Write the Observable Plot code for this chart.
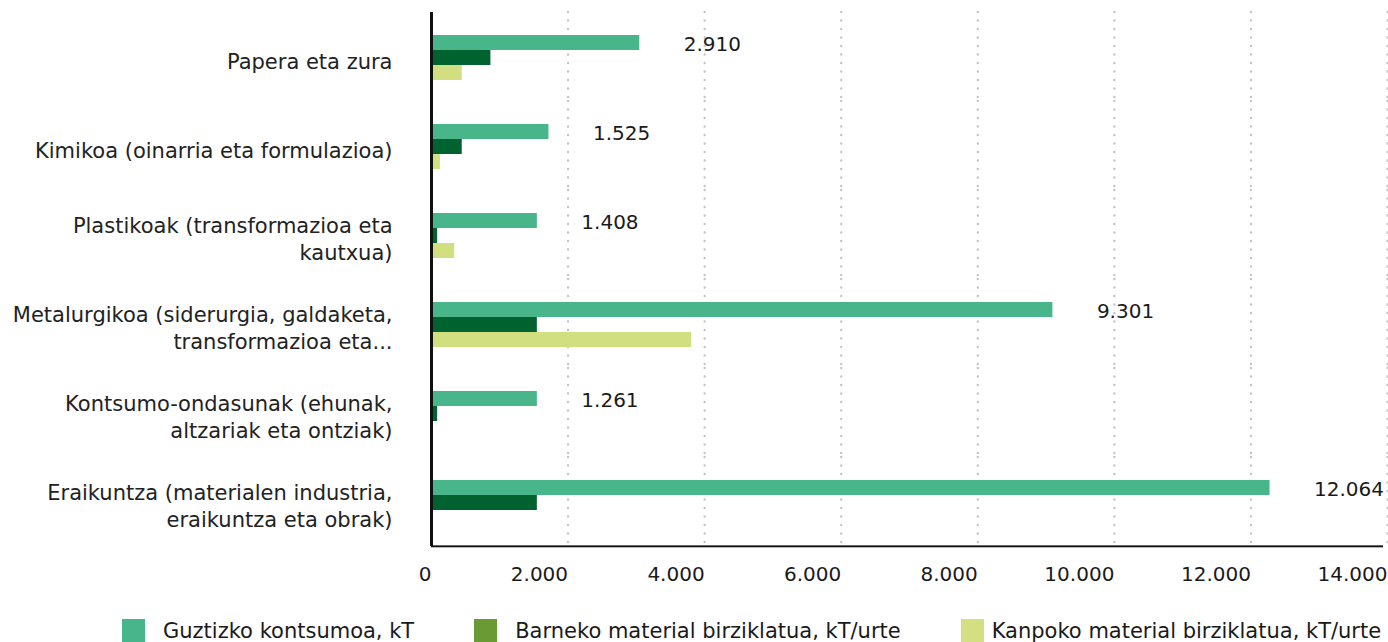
<!DOCTYPE html>
<html>
<head>
<meta charset="utf-8">
<script src="https://cdn.jsdelivr.net/npm/d3@7"></script>
<script src="https://cdn.jsdelivr.net/npm/@observablehq/plot@0.6"></script>
<style>
  html, body { margin: 0; padding: 0; background: #fff; }
  body { width: 1388px; height: 642px; overflow: hidden; position: relative; font-family: "DejaVu Sans", sans-serif; }
  #chart { position: absolute; left: 0; top: 0; }
  #legend { position: absolute; left: 0; top: 619px; width: 1388px; height: 23px; overflow: hidden; white-space: nowrap;
            display: flex; align-items: flex-start; padding-left: 122px; box-sizing: border-box; gap: 60px;
            font-family: "DejaVu Sans", sans-serif; font-size: 21px; color: #1a1a1a; }
  .item { display: flex; align-items: flex-start; flex: none; }
  .sw { width: 23px; height: 23px; flex: none; }
  .lt { margin-left: 18px; line-height: 21px; margin-top: 2px; }
  .item:last-child .lt { margin-left: 8px; }
</style>
</head>
<body>
<div id="chart"></div>
<div id="legend"></div>
<script>
// ---- data ----
const categories = [
  "Papera eta zura",
  "Kimikoa (oinarria eta formulazioa)",
  "Plastikoak (transformazioa eta kautxua)",
  "Metalurgikoa (siderurgia, galdaketa, transformazioa eta...",
  "Kontsumo-ondasunak (ehunak, altzariak eta ontziak)",
  "Eraikuntza (materialen industria, eraikuntza eta obrak)"
];
const categoryLabels = [
  "Papera eta zura",
  "Kimikoa (oinarria eta formulazioa)",
  "Plastikoak (transformazioa eta\nkautxua)",
  "Metalurgikoa (siderurgia, galdaketa,\ntransformazioa eta...",
  "Kontsumo-ondasunak (ehunak,\naltzariak eta ontziak)",
  "Eraikuntza (materialen industria,\neraikuntza eta obrak)"
];
const series = [
  "Guztizko kontsumoa, kT",
  "Barneko material birziklatua, kT/urte",
  "Kanpoko material birziklatua, kT/urte"
];
const guztizko = [3050, 1720, 1550, 9100, 1550, 12280];
const barneko  = [870, 450, 90, 1550, 90, 1550];
const kanpoko  = [450, 130, 340, 3810, null, null];
const guztizkoLabels = ["2.910", "1.525", "1.408", "9.301", "1.261", "12.064"];
const xTicks = [0, 2000, 4000, 6000, 8000, 10000, 12000, 14000];
const barColors = ["#49b58b", "#00632f", "#d2df80"];
const legendColors = ["#49b58b", "#6a9a33", "#d3df80"];

// ---- build table ----
const seriesValues = [guztizko, barneko, kanpoko];
const rows = [];
categories.forEach((c, i) => {
  series.forEach((s, j) => {
    const v = seriesValues[j][i];
    if (v != null) rows.push({category: c, series: s, value: v});
  });
});
const labelRows = categories.map((c, i) => ({category: c, series: series[0], value: guztizko[i], label: guztizkoLabels[i]}));

const fmt = d3.formatLocale({decimal: ",", thousands: ".", grouping: [3], currency: ["", ""]}).format(",d");
const xMax = xTicks[xTicks.length - 1];
const lastCategory = categories[categories.length - 1];

const W = 1388, H = 600, mT = 10, mB = 52;
const facetH = (H - mT - mB) / categories.length;

const plot = Plot.plot({
  width: W,
  height: H,
  marginLeft: 431,
  marginRight: 1,
  marginTop: mT,
  marginBottom: mB,
  style: {fontFamily: "DejaVu Sans, sans-serif", fontSize: "20px", color: "#1a1a1a", background: "white"},
  x: {domain: [0, xMax]},
  fy: {domain: categories, padding: 0},
  y: {domain: series, paddingInner: 0, paddingOuter: 1.393, align: 0.53, axis: null},
  color: {domain: series, range: barColors},
  marks: [
    Plot.gridX(xTicks.filter(d => d > 0), {stroke: "#c4c4c4", strokeOpacity: 1, strokeWidth: 2.4, strokeDasharray: "0,8.5", strokeLinecap: "round"}),
    Plot.barX(rows, {x: "value", y: "series", fy: "category", fill: "series"}),
    Plot.text(labelRows, {x: "value", y: "series", fy: "category", text: "label", textAnchor: "start", dx: 44, dy: 2, fontSize: 20, fill: "#1a1a1a"}),
    // bottom axis line (drawn in the last facet only)
    Plot.barX([lastCategory], {x1: 0, x2: xMax, fy: d => d, fill: "#111", insetTop: facetH - 1.3, insetBottom: -1.3, insetRight: 4}),
    Plot.ruleX([0], {stroke: "#111", strokeWidth: 3}),
    Plot.axisX({ticks: xTicks, tickFormat: fmt, tickSize: 0, tickPadding: 20, textAnchor: "end", fontSize: 20, label: null, color: "#1a1a1a"}),
    Plot.axisFy({anchor: "left", tickSize: 0, tickPadding: 39, label: null, fontSize: 21, lineHeight: 1.27, dy: 3,
      tickFormat: d => categoryLabels[categories.indexOf(d)], color: "#222"})
  ]
});
document.getElementById("chart").appendChild(plot);

// ---- legend ----
const legend = document.getElementById("legend");
series.forEach((s, i) => {
  const item = document.createElement("div");
  item.className = "item";
  const sw = document.createElement("div");
  sw.className = "sw";
  sw.style.background = legendColors[i];
  const t = document.createElement("span");
  t.className = "lt";
  t.textContent = s;
  item.appendChild(sw);
  item.appendChild(t);
  legend.appendChild(item);
});
</script>
</body>
</html>
